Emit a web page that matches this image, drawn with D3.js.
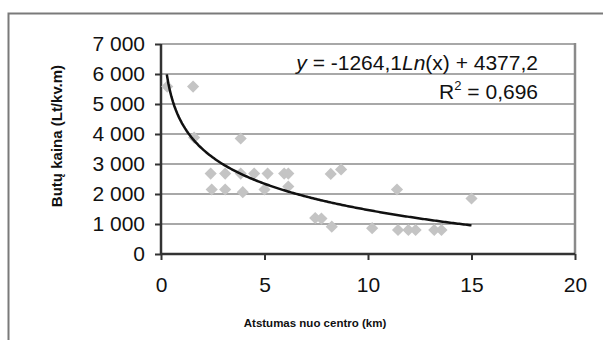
<!DOCTYPE html>
<html lang="lt">
  <head>
    <meta charset="UTF-8" />
    <title>Butų kaina pagal atstumą nuo centro</title>
    <script src="https://d3js.org/d3.v7.min.js"></script>
    <style>
      body {
        margin: 0;
        background: #fff;
      }
      svg text {
        font-family: "Liberation Sans", Arial, sans-serif;
        fill: #111;
      }
      .grid line {
        stroke: #a8a8a8;
        stroke-width: 2px;
      }
    </style>
  </head>
  <body>
    <div id="chart"></div>

    <script>
      // atstumas nuo centro (km) ir buto kaina (Lt/kv.m)
      const distances = [
        0.3, 1.55, 1.6, 3.85, 2.4, 3.1, 3.85, 4.5, 5.15, 5.95, 6.15, 2.45,
        3.1, 3.95, 5.0, 6.15, 8.2, 8.7, 11.4, 15.0, 7.45, 7.75, 8.25, 10.2,
        11.45, 11.95, 12.3, 13.2, 13.55,
      ];
      const prices = [
        5580, 5580, 3880, 3850, 2680, 2680, 2680, 2680, 2680, 2680, 2680,
        2150, 2150, 2060, 2150, 2250, 2670, 2820, 2150, 1850, 1200, 1180,
        910, 860, 800, 800, 800, 800, 800,
      ];
      const xTicks = [0, 5, 10, 15, 20];
      const yTicks = [0, 1000, 2000, 3000, 4000, 5000, 6000, 7000];

      // logaritminė tendencija y = a*Ln(x) + b
      const trendA = -1264.1;
      const trendB = 4377.2;
      const trendFrom = 0.28;
      const trendTo = 15;

      const width = 603;
      const height = 340;
      const margin = { left: 161, right: 28, top: 44, bottom: 86 };

      const svg = d3
        .select("#chart")
        .append("svg")
        .attr("width", width)
        .attr("height", height);

      // outer frame
      svg
        .append("path")
        .attr("d", `M8.5,${height} V13.5 H${width}`)
        .attr("fill", "none")
        .attr("stroke", "#7a7a7a")
        .attr("stroke-width", 2);

      const x = d3
        .scaleLinear()
        .domain([0, 20])
        .range([margin.left, width - margin.right]);
      const y = d3
        .scaleLinear()
        .domain([0, 7000])
        .range([height - margin.bottom, margin.top]);

      // gridlines
      svg
        .append("g")
        .attr("class", "grid")
        .selectAll("line")
        .data(yTicks.filter((d) => d > 0))
        .join("line")
        .attr("x1", x(0))
        .attr("x2", x(20))
        .attr("y1", (d) => y(d))
        .attr("y2", (d) => y(d));

      // right border of plot area
      svg
        .append("line")
        .attr("x1", x(20))
        .attr("x2", x(20))
        .attr("y1", y(7000) - 1)
        .attr("y2", y(0))
        .attr("stroke", "#8a8a8a")
        .attr("stroke-width", 2.5);

      const fmt = (v) => d3.format(",")(v).replace(",", " ");

      const yAxis = svg
        .append("g")
        .attr("transform", `translate(${x(0)},0)`)
        .call(d3.axisLeft(y).tickValues(yTicks).tickSize(6).tickPadding(10).tickFormat(fmt));
      const xAxis = svg
        .append("g")
        .attr("transform", `translate(0,${y(0)})`)
        .call(d3.axisBottom(x).tickValues(xTicks).tickSize(6).tickPadding(17));

      [yAxis, xAxis].forEach((g) => {
        g.select(".domain").attr("stroke", "#333").attr("stroke-width", 2.5);
        g.selectAll(".tick line").attr("stroke", "#333").attr("stroke-width", 2);
        g.selectAll("text")
          .attr("font-size", 21)
          .attr("font-family", "Liberation Sans, Arial, sans-serif")
          .attr("fill", "#111");
      });
      xAxis.select(".domain").attr("d", `M${x(0)},0H${x(20)}`);
      yAxis.select(".domain").attr("d", `M0,${y(0)}V${y(7000)}`);

      // points
      const diamond = d3.symbol(d3.symbolSquare, 74);
      svg
        .append("g")
        .selectAll("path")
        .data(distances.map((d, i) => [d, prices[i]]))
        .join("path")
        .attr("d", diamond)
        .attr("transform", (d) => `translate(${x(d[0])},${y(d[1])}) rotate(45)`)
        .attr("fill", "#c4c4c4");

      // trendline
      const trendPts = d3
        .range(0, 201)
        .map((i) => trendFrom + ((trendTo - trendFrom) * i) / 200)
        .map((v) => [v, trendA * Math.log(v) + trendB]);
      svg
        .append("path")
        .datum(trendPts)
        .attr("fill", "none")
        .attr("stroke", "#111")
        .attr("stroke-width", 2.5)
        .attr(
          "d",
          d3
            .line()
            .x((d) => x(d[0]))
            .y((d) => y(d[1]))
        );

      // equation
      const eq = svg
        .append("text")
        .attr("x", 538)
        .attr("y", 70)
        .attr("text-anchor", "end")
        .attr("font-size", 21);
      eq.append("tspan").attr("font-style", "italic").text("y");
      eq.append("tspan").text(" = -1264,1");
      eq.append("tspan").attr("font-style", "italic").text("Ln");
      eq.append("tspan").text("(x) + 4377,2");

      const r2 = svg
        .append("text")
        .attr("x", 538)
        .attr("y", 99)
        .attr("text-anchor", "end")
        .attr("font-size", 21);
      r2.append("tspan").text("R");
      r2.append("tspan").attr("font-size", 13).attr("dy", -9).text("2");
      r2.append("tspan").attr("dy", 9).text(" = 0,696");

      // axis titles
      svg
        .append("text")
        .attr("transform", `translate(62,136) rotate(-90)`)
        .attr("text-anchor", "middle")
        .attr("font-size", 15)
        .attr("font-weight", "bold")
        .text("Butų kaina (Lt/kv.m)");

      svg
        .append("text")
        .attr("x", 315)
        .attr("y", 327)
        .attr("text-anchor", "middle")
        .attr("font-size", 11.5)
        .attr("font-weight", "bold")
        .text("Atstumas nuo centro (km)");
    </script>
  </body>
</html>
